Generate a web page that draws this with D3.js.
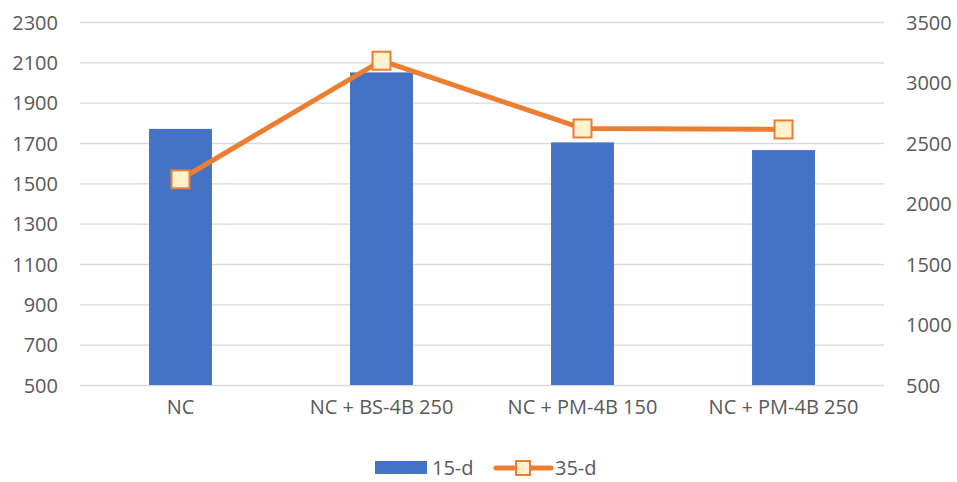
<!DOCTYPE html>
<html>
<head>
<meta charset="utf-8">
<script src="https://cdn.jsdelivr.net/npm/d3@7/dist/d3.min.js"></script>
<style>
  html, body { margin: 0; padding: 0; background: #fff; }
  svg text { font-family: "Open Sans", "Noto Sans", sans-serif; fill: #595959; }
</style>
</head>
<body>
<svg id="chart" width="957" height="482"></svg>
<script>
// Data
const categories = ["NC", "NC + BS-4B 250", "NC + PM-4B 150", "NC + PM-4B 250"];
const values15d = [1770, 2050, 1703, 1665];
const values35d = [2200, 3180, 2620, 2612];
const leftTicks = [500, 700, 900, 1100, 1300, 1500, 1700, 1900, 2100, 2300];
const rightTicks = [500, 1000, 1500, 2000, 2500, 3000, 3500];
const seriesNames = ["15-d", "35-d"];

const svg = d3.select("#chart");
const plot = { left: 80, right: 884, top: 22, bottom: 385 };
const fontSize = "20px";

const x = d3.scaleBand().domain(categories).range([plot.left, plot.right]).paddingInner(0.687).paddingOuter(0.3435);
const yL = d3.scaleLinear().domain([500, 2300]).range([plot.bottom, plot.top]);
const yR = d3.scaleLinear().domain([500, 3500]).range([plot.bottom, plot.top]);

// Gridlines
svg.append("g")
  .attr("transform", `translate(${plot.left},0)`)
  .call(d3.axisLeft(yL).tickValues(leftTicks).tickSize(-(plot.right - plot.left)).tickFormat(""))
  .call(g => g.select(".domain").remove())
  .call(g => g.selectAll("line").attr("stroke", "#d9d9d9").attr("stroke-width", 1.3));

// Left axis labels
svg.append("g")
  .attr("transform", `translate(${plot.left},0)`)
  .call(d3.axisLeft(yL).tickValues(leftTicks).tickSize(0).tickPadding(22).tickFormat(d3.format("d")))
  .call(g => g.select(".domain").remove())
  .call(g => g.selectAll("text").style("font-size", fontSize).attr("dy", "0.35em"));

// Right axis labels
svg.append("g")
  .attr("transform", `translate(${plot.right},0)`)
  .call(d3.axisRight(yR).tickValues(rightTicks).tickSize(0).tickPadding(22).tickFormat(d3.format("d")))
  .call(g => g.select(".domain").remove())
  .call(g => g.selectAll("text").style("font-size", fontSize).attr("dy", "0.35em"));

// Category axis labels
svg.append("g")
  .attr("transform", `translate(0,${plot.bottom})`)
  .call(d3.axisBottom(x).tickSize(0).tickPadding(15))
  .call(g => g.select(".domain").remove())
  .call(g => g.selectAll("text").style("font-size", fontSize));

// Bars (15-d)
svg.append("g").selectAll("rect")
  .data(values15d)
  .join("rect")
  .attr("x", (d, i) => x(categories[i]))
  .attr("width", x.bandwidth())
  .attr("y", d => yL(d))
  .attr("height", d => yL(500) - yL(d))
  .attr("fill", "#4472C4");

// Line (35-d)
const cx = (d, i) => x(categories[i]) + x.bandwidth() / 2;
svg.append("path")
  .datum(values35d)
  .attr("fill", "none")
  .attr("stroke", "#ED7D31")
  .attr("stroke-width", 5)
  .attr("stroke-linejoin", "round")
  .attr("d", d3.line().x(cx).y(d => yR(d)));

const m = 18;
svg.append("g").selectAll("rect")
  .data(values35d)
  .join("rect")
  .attr("x", (d, i) => cx(d, i) - m / 2)
  .attr("y", d => yR(d) - m / 2)
  .attr("width", m)
  .attr("height", m)
  .attr("fill", "#FFF2CC")
  .attr("stroke", "#ED7D31")
  .attr("stroke-width", 2);

// Legend
const legend = svg.append("g");
legend.append("rect").attr("x", 375).attr("y", 461).attr("width", 52).attr("height", 13).attr("fill", "#4472C4");
legend.append("text").attr("x", 432).attr("y", 468).attr("dy", "0.35em").style("font-size", fontSize).text(seriesNames[0]);
legend.append("line").attr("x1", 496).attr("x2", 551).attr("y1", 468).attr("y2", 468)
  .attr("stroke", "#ED7D31").attr("stroke-width", 5).attr("stroke-linecap", "round");
legend.append("rect").attr("x", 523 - 7).attr("y", 468 - 7).attr("width", 14).attr("height", 14)
  .attr("fill", "#FFF2CC").attr("stroke", "#ED7D31").attr("stroke-width", 2);
legend.append("text").attr("x", 555).attr("y", 468).attr("dy", "0.35em").style("font-size", fontSize).text(seriesNames[1]);
</script>
</body>
</html>
